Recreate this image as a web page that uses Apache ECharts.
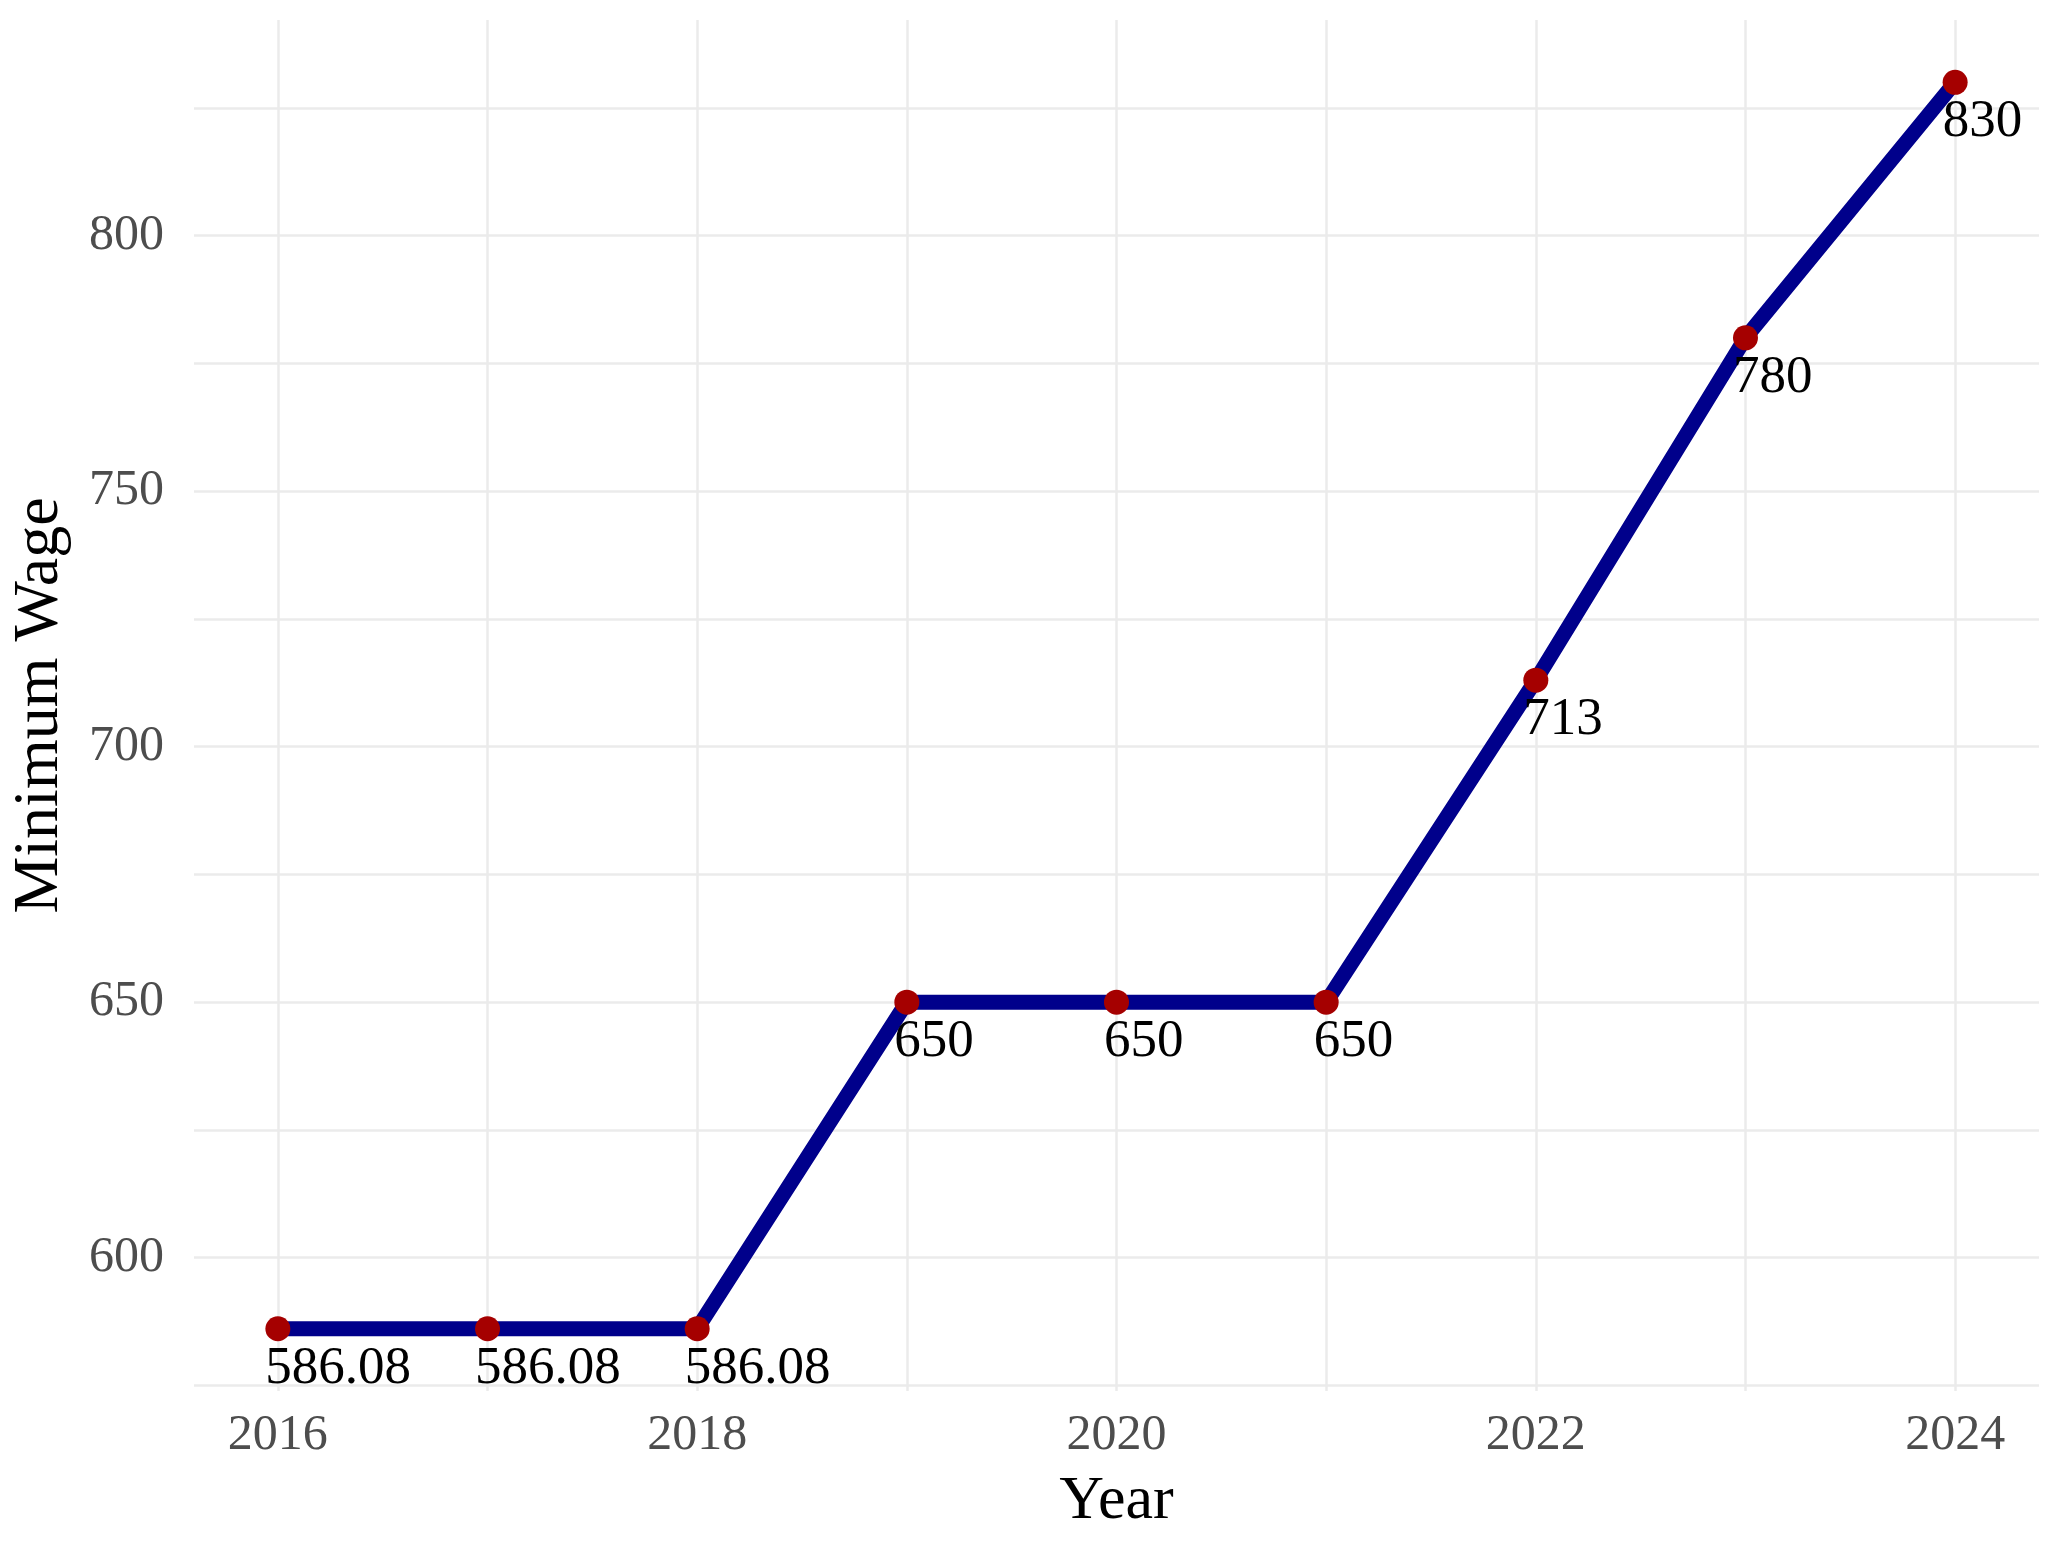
<!DOCTYPE html>
<html>
<head>
<meta charset="utf-8">
<title>Minimum Wage</title>
<script src="https://cdn.jsdelivr.net/npm/echarts@6/dist/echarts.min.js"></script>
<style>
  html, body { margin: 0; padding: 0; background: #ffffff; }
  #main { width: 2071px; height: 1541px; }
</style>
</head>
<body>
<div id="main"></div>
<script>
// data
var years = [2016, 2017, 2018, 2019, 2020, 2021, 2022, 2023, 2024];
var wages = [586.08, 586.08, 586.08, 650, 650, 650, 713, 780, 830];

// tick labels and grid lines
var yearLabels = [2016, 2018, 2020, 2022, 2024];
var wageLabels = [600, 650, 700, 750, 800];
var wageGrid = [575, 600, 625, 650, 675, 700, 725, 750, 775, 800, 825];

var serif = '"Liberation Serif", "DejaVu Serif", serif';
var gridColor = '#ebebeb';

var myChart = echarts.init(document.getElementById('main'));

var points = years.map(function (y, i) { return [y, wages[i]]; });

var option = {
    backgroundColor: '#ffffff',
    animation: false,
    grid: {
        left: 194,
        right: 32,
        top: 20,
        bottom: 150
    },
    xAxis: {
        type: 'value',
        min: 2015.6,
        max: 2024.4,
        name: 'Year',
        nameLocation: 'middle',
        nameGap: 80,
        nameTextStyle: { fontFamily: serif, fontSize: 62, color: '#000000' },
        axisLine: { show: false },
        axisTick: { show: false, customValues: years },
        axisLabel: {
            customValues: yearLabels,
            formatter: function (v) { return String(v); },
            fontFamily: serif,
            fontSize: 50,
            color: '#4d4d4d',
            margin: 20
        },
        splitLine: { show: true, lineStyle: { color: gridColor, width: 2.5 } }
    },
    yAxis: {
        type: 'value',
        min: 573.9,
        max: 842.2,
        name: 'Minimum Wage',
        nameLocation: 'middle',
        nameGap: 122,
        nameRotate: 90,
        nameTextStyle: { fontFamily: serif, fontSize: 64, color: '#000000' },
        axisLine: { show: false },
        axisTick: { show: false, customValues: wageGrid },
        axisLabel: {
            customValues: wageLabels,
            formatter: function (v) { return String(v); },
            fontFamily: serif,
            fontSize: 50,
            color: '#4d4d4d',
            margin: 30
        },
        splitLine: { show: true, lineStyle: { color: gridColor, width: 2.5 } }
    },
    series: [{
        type: 'line',
        data: points,
        symbol: 'circle',
        symbolSize: 25,
        lineStyle: { color: '#00008b', width: 15 },
        itemStyle: { color: '#a50000' },
        label: {
            show: true,
            position: [0, 26],
            align: 'left',
            verticalAlign: 'top',
            fontFamily: serif,
            fontSize: 53,
            color: '#000000',
            formatter: function (p) { return String(p.value[1]); }
        },
        z: 3
    }]
};

myChart.setOption(option);
</script>
</body>
</html>
